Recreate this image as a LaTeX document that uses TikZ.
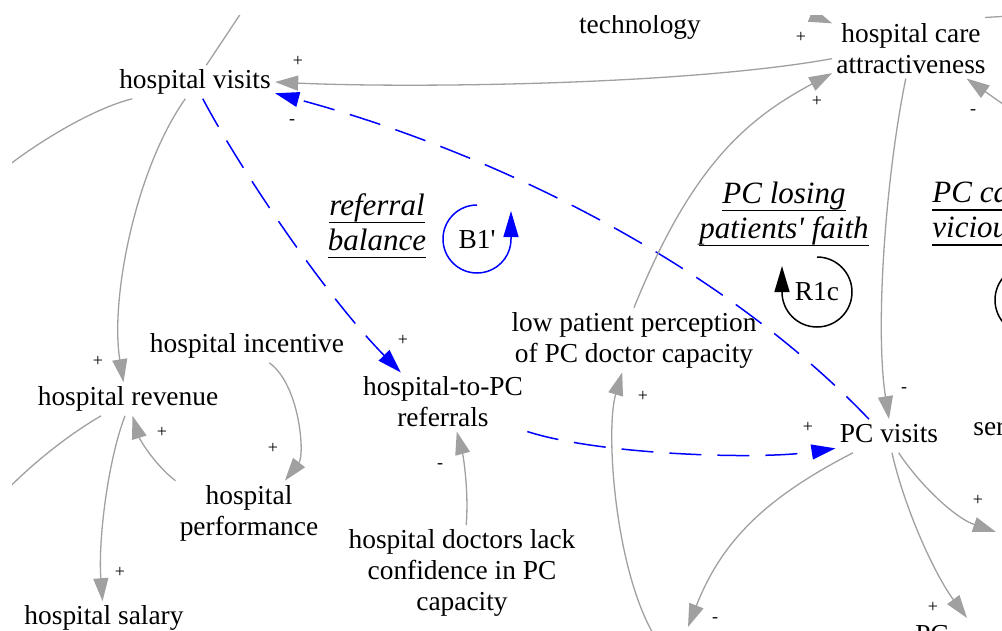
\documentclass[tikz,border=0pt]{standalone}
\usepackage{fontspec}
\setmainfont{Liberation Serif}
\usepackage{tikz}
\usetikzlibrary{positioning, arrows.meta, calc}
\definecolor{linkgray}{RGB}{160,160,160}
\newcommand{\loopul}[1]{\setbox0\hbox{#1}\rlap{\rule[-3.9pt]{\wd0}{0.7pt}}\box0}
\newcommand{\tick}{\textquotesingle}

\begin{document}
\begin{tikzpicture}[x=0.5pt, y=-0.5pt,
    var/.style={inner sep=2pt, text height=9.4pt, text depth=3pt, font=\fontsize{13.7}{15.5}\selectfont},
    mvar/.style={inner sep=2pt, align=center, font=\fontsize{13.7}{15.5}\selectfont},
    loopid/.style={inner sep=0pt, font=\fontsize{13.7}{15.5}\selectfont},
    loopname/.style={inner sep=0pt, align=center, font=\fontsize{15.5}{17.5}\selectfont\itshape},
    sign/.style={inner sep=0pt, font=\fontsize{9}{10}\selectfont},
    link/.style={linkgray, line width=0.65pt, -{Triangle[length=11.5pt, width=7.5pt]}},
    wire/.style={linkgray, line width=0.65pt},
    referral/.style={blue, line width=0.75pt, dash pattern=on 16pt off 8pt, -{Triangle[length=12pt, width=7.5pt]}},
    bloop/.style={blue, line width=0.75pt, -{Triangle[length=13pt, width=7.5pt]}},
    rloop/.style={black, line width=0.75pt, -{Triangle[length=13pt, width=7.5pt]}}]
\useasboundingbox (0,0) rectangle (1002,631);
\clip (12,16) rectangle (1002,631);

% variables
\node[var] (tech) at (640,27) {technology};
\node[var] (hv) at (195,82) {hospital visits};
\node[mvar] (hca) at (911,49) {hospital care\\attractiveness};
\node[var] (hi) at (247,346) {hospital incentive};
\node[var] (hr) at (128,399) {hospital revenue};
\node[mvar] (htpc) at (443,402) {hospital-to-PC\\referrals};
\node[mvar] (lp) at (634,340) {low patient perception\\of PC doctor capacity};
\node[var] (pcv) at (889,436) {PC visits};
\node[mvar] (hp) at (249,513) {hospital\\performance};
\node[mvar] (hdl) at (462,573) {hospital doctors lack\\confidence in PC\\capacity};
\node[var] (hs) at (104,618) {hospital salary};
\node[var, anchor=west] (serv) at (969,429) {service};
\node[var] (pcb) at (932,637) {PC};

% loops
\node[loopname] (rb) at (377,226) {\loopul{referral}\\\loopul{balance}};
\node[loopname] (lf) at (784,214) {\loopul{PC losing}\\\loopul{patients\tick{} faith}};
\node[loopname, align=left, anchor=west] (vc) at (932,214) {\loopul{PC care}\\\loopul{vicious cycle}};
\node[loopid] (b1) at (477,239) {B1\tick};
\node[loopid] (r1c) at (817,292) {R1c};
\draw[bloop] ($(b1)+(0,-34)$) arc[start angle=270, end angle=0, radius=34] -- ++(0,-28);
\draw[rloop] ($(r1c)+(0,-35)$) arc[start angle=270, end angle=540, radius=35] -- ++(0,-26);
\draw[black, line width=0.75pt] (1030,300) circle[radius=35];

% loose ends
\coordinate (up1) at (245,7);
\coordinate (up2) at (770,-2);
\coordinate (up3) at (985,17.5);
\coordinate (up4) at (1010,16);
\coordinate (left1) at (0,172);
\coordinate (left2) at (0,497);
\coordinate (right1) at (996,532);
\coordinate (right2) at (1010,109);
\coordinate (down1) at (688,627);
\coordinate (down2) at (657,640);
\coordinate (down3) at (967,618);

% links
\draw[link] (hca.187) .. controls (680,86) and (400,88) .. (hv.east);
\draw[referral] (pcv.140) .. controls (716,259) and (486,150) .. (hv.-8);
\draw[referral] (hv.-65) .. controls (235,160) and (320,290) .. (htpc.145);
\draw[referral] (htpc.south east) .. controls (600,455) and (760,460) .. (pcv.193);
\draw[link] (hdl.85) .. controls (469,490) and (463,455) .. (htpc.-65);
\draw[link] (hi.-37) .. controls (300,385) and (305,455) .. (hp.42);
\draw[link] (hp.north west) .. controls (155,465) and (140,440) .. (hr.-75);
\draw[link] (hr.-100) .. controls (108,460) and (98,540) .. (hs.95);
\draw[link] (hv.-120) .. controls (135,170) and (110,300) .. (hr.105);
\draw[wire] (hv.56) -- (up1);
\draw[wire] (hv.-165) .. controls (95,108) and (40,140) .. (left1);
\draw[wire] (hr.-148) .. controls (68,435) and (30,465) .. (left2);
\draw[link] (lp.north) .. controls (691,167) and (745,120) .. (hca.197);
\draw[link] (hca.-100) .. controls (885,180) and (875,330) .. (pcv.north);
\draw[link] (pcv.205) .. controls (763,499) and (721,543) .. (down1);
\draw[link] (down2) .. controls (615,575) and (605,430) .. (lp.-110);
\draw[link] (pcv.-60) .. controls (920,485) and (955,518) .. (right1);
\draw[link] (pcv.-80) .. controls (905,510) and (935,575) .. (down3);
\draw[link] (right2) -- (hca.-28);
\draw[link] (up2) -- (hca.162);
\draw[wire] (up3) -- (up4);

% polarities
\foreach \px/\py/\s [count=\i] in {298/61/+, 292/122/-, 801/37/+, 817/101/+, 973/112/-,
    403/340/+, 98/361/+, 162/432/+, 273/448/+, 120/572/+, 440/466/-, 643/396/+,
    808/427/+, 904/390/-, 978/500/+, 933/607/+, 715/620/-}
  \node[sign] (s\i) at (\px,\py) {\s};
\end{tikzpicture}
\end{document}
